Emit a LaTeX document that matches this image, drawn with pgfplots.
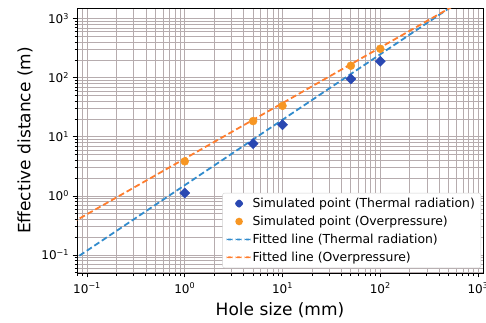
\documentclass[border=0pt]{standalone}
\usepackage{fontspec}
\setmainfont{DejaVu Sans}
\usepackage{pgfplots}
\pgfplotsset{compat=1.18}
\definecolor{gridc}{RGB}{182,172,174}
\definecolor{dblue}{RGB}{42,72,178}
\definecolor{morange}{RGB}{247,150,35}
\definecolor{lblue}{RGB}{50,140,205}
\definecolor{lorange}{RGB}{255,125,45}
\newcommand{\tl}[1]{10\textsuperscript{#1}}
\begin{document}
\begin{tikzpicture}
\useasboundingbox (-77pt,-49pt) rectangle (409pt,273pt);
\begin{axis}[
  at={(0,0)}, anchor=south west,
  xmode=log, ymode=log,
  scale only axis, width=406pt, height=265pt,
  xmin=0.079, xmax=1125, ymin=0.0495, ymax=1520,
  grid=both,
  major grid style={gridc, line width=0.75pt},
  minor grid style={gridc, line width=0.7pt},
  axis line style={black, line width=0.9pt},
  tick align=outside, tick pos=left,
  major tick length=4.5pt, minor tick length=2.5pt,
  every tick/.style={black, line width=0.8pt},
  xtick={0.1,1,10,100,1000},
  xticklabels={\tl{−1},\tl{0},\tl{1},\tl{2},\tl{3}},
  minor xtick={0.08,0.09,0.2,0.3,0.4,0.5,0.6,0.7,0.8,0.9,2,3,4,5,6,7,8,9,20,30,40,50,60,70,80,90,200,300,400,500,600,700,800,900},
  ytick={0.1,1,10,100,1000},
  yticklabels={\tl{−1},\tl{0},\tl{1},\tl{2},\tl{3}},
  minor ytick={0.05,0.06,0.07,0.08,0.09,0.2,0.3,0.4,0.5,0.6,0.7,0.8,0.9,2,3,4,5,6,7,8,9,20,30,40,50,60,70,80,90,200,300,400,500,600,700,800,900},
  ticklabel style={font=\fontsize{12}{14}\selectfont},
  xticklabel style={yshift=-2pt},
  xlabel={Hole size (mm)},
  ylabel={Effective distance (m)},
  label style={font=\fontsize{17}{20}\selectfont},
  xlabel style={at={(axis description cs:0.5,-0.14)}, anchor=center},
  ylabel style={at={(axis description cs:-0.128,0.5)}, anchor=center},
  legend style={at={(1,0)}, anchor=south east, xshift=-2pt, yshift=5pt,
    draw=gray!35, fill=white,
    rounded corners=2pt, font=\fontsize{12.4}{14}\selectfont,
    inner xsep=4pt, inner ysep=3pt, row sep=3pt},
  legend cell align=left,
]
\addplot[only marks, mark=square*, mark size=3.6pt, color=dblue, mark options={rotate=45},
  legend image code/.code={\path[draw=none, fill=dblue] (12.5pt,4.8pt) -- (17.3pt,0pt) -- (12.5pt,-4.8pt) -- (7.7pt,0pt) -- cycle;}]
  coordinates {(1,1.12) (5,7.7) (10,16) (50,96) (100,190)};
\addlegendentry{Simulated point (Thermal radiation)}
\addplot[only marks, mark=*, mark size=4pt, color=morange,
  legend image code/.code={\path[draw=none, fill=morange] (12.5pt,0pt) circle[radius=3.8pt];}]
  coordinates {(1,3.85) (5,18.5) (10,33.5) (50,160) (100,310)};
\addlegendentry{Simulated point (Overpressure)}
\addplot[draw=lblue, line width=1.8pt, dash pattern=on 6pt off 3pt,
  legend image code/.code={\path[draw=none, fill=lblue] (0pt,-0.9pt) rectangle (6pt,0.9pt) (9pt,-0.9pt) rectangle (15pt,0.9pt) (18pt,-0.9pt) rectangle (24pt,0.9pt);}]
  coordinates {(0.07,0.0798) (1200,3920)};
\addlegendentry{Fitted line (Thermal radiation)}
\addplot[draw=lorange, line width=1.8pt, dash pattern=on 6pt off 3pt,
  legend image code/.code={\path[draw=none, fill=lorange] (0pt,-0.9pt) rectangle (6pt,0.9pt) (9pt,-0.9pt) rectangle (15pt,0.9pt) (18pt,-0.9pt) rectangle (24pt,0.9pt);}]
  coordinates {(0.07,0.350) (1200,3370)};
\addlegendentry{Fitted line (Overpressure)}
\end{axis}
\end{tikzpicture}
\end{document}
